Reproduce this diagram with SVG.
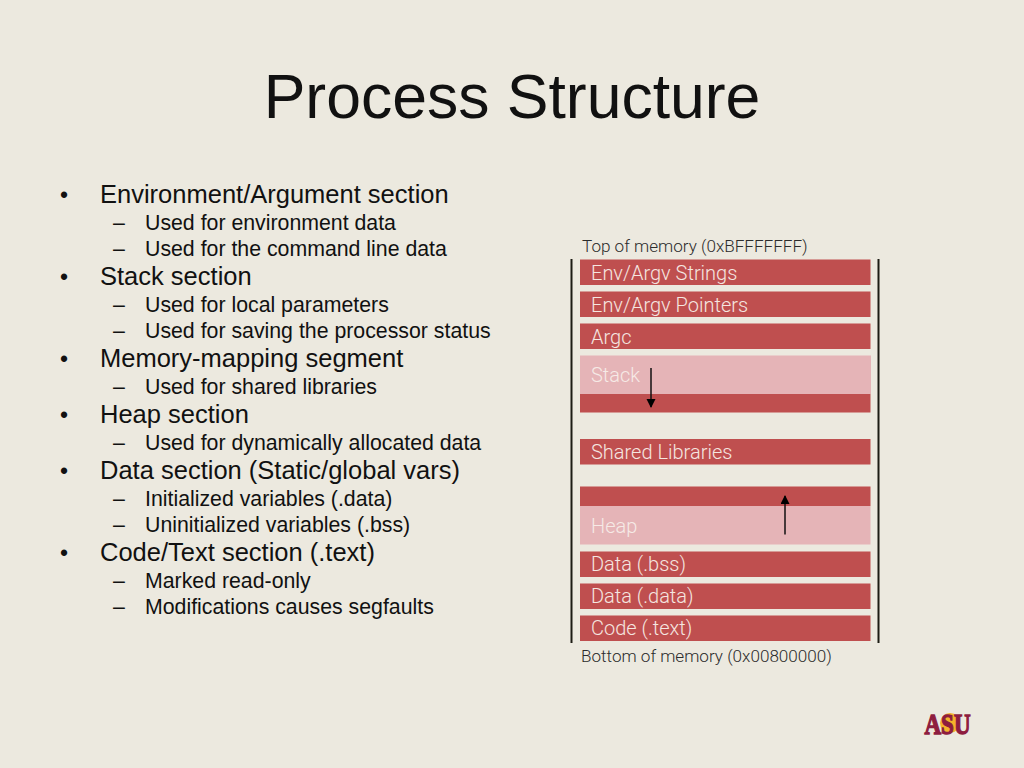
<svg xmlns="http://www.w3.org/2000/svg" width="1024" height="768" viewBox="0 0 1024 768">
<style>
text{font-family:"Liberation Sans",Arial,sans-serif;fill:#111}
.title{font-size:62.5px}
.l1{font-size:25.5px}
.l2{font-size:21.3px}
.b{font-size:23px}
.bar{fill:#bf4f4f}
.pale{fill:#e5b4b7}
.lab{font-family:Roboto,"Liberation Sans",sans-serif;font-weight:300;font-size:20px;fill:#f5e6e0}
.pl{fill:#f6eae6}
.mem{font-family:Roboto,"Liberation Sans",sans-serif;font-weight:300;font-size:17.1px;fill:#2b2b2b}
.rail{stroke:#1c1c14;stroke-width:2;fill:none}
.arrow{stroke:#111;stroke-width:1.5;fill:none;marker-end:url(#ah)}
</style>
<defs><marker id="ah" markerUnits="userSpaceOnUse" markerWidth="10" markerHeight="10" refX="8" refY="4.5" orient="auto"><path d="M0 0L9 4.5L0 9Z" fill="#000"/></marker></defs>
<rect width="1024" height="768" fill="#ece9df"/>
<text class="title" x="512" y="118" text-anchor="middle">Process Structure</text>
<g id="outline">
<text class="b" x="60" y="203">•</text><text class="l1" x="100" y="203">Environment/Argument section</text>
<text class="l2" x="113" y="230">–</text><text class="l2" x="145" y="230">Used for environment data</text>
<text class="l2" x="113" y="256">–</text><text class="l2" x="145" y="256">Used for the command line data</text>
<text class="b" x="60" y="285">•</text><text class="l1" x="100" y="285">Stack section</text>
<text class="l2" x="113" y="312">–</text><text class="l2" x="145" y="312">Used for local parameters</text>
<text class="l2" x="113" y="338">–</text><text class="l2" x="145" y="338">Used for saving the processor status</text>
<text class="b" x="60" y="367">•</text><text class="l1" x="100" y="367">Memory-mapping segment</text>
<text class="l2" x="113" y="394">–</text><text class="l2" x="145" y="394">Used for shared libraries</text>
<text class="b" x="60" y="423">•</text><text class="l1" x="100" y="423">Heap section</text>
<text class="l2" x="113" y="450">–</text><text class="l2" x="145" y="450">Used for dynamically allocated data</text>
<text class="b" x="60" y="479">•</text><text class="l1" x="100" y="479">Data section (Static/global vars)</text>
<text class="l2" x="113" y="506">–</text><text class="l2" x="145" y="506">Initialized variables (.data)</text>
<text class="l2" x="113" y="532">–</text><text class="l2" x="145" y="532">Uninitialized variables (.bss)</text>
<text class="b" x="60" y="561">•</text><text class="l1" x="100" y="561">Code/Text section (.text)</text>
<text class="l2" x="113" y="588">–</text><text class="l2" x="145" y="588">Marked read-only</text>
<text class="l2" x="113" y="614">–</text><text class="l2" x="145" y="614">Modifications causes segfaults</text>
</g>
<g id="memory">
<text class="mem" x="582" y="252">Top of memory (0xBFFFFFFF)</text>
<g id="env-strings"><rect class="bar" x="580" y="259.500" width="290.500" height="25.500"/><text class="lab" x="591" y="279.500">Env/Argv Strings</text></g>
<g id="env-pointers"><rect class="bar" x="580" y="291.500" width="290.500" height="25.500"/><text class="lab" x="591" y="311.500">Env/Argv Pointers</text></g>
<g id="argc"><rect class="bar" x="580" y="323.500" width="290.500" height="25.500"/><text class="lab" x="591" y="343.500">Argc</text></g>
<g id="stack"><rect class="pale" x="580" y="355.500" width="291" height="38.500"/><rect class="bar" x="580" y="394" width="290.500" height="18.500"/><text class="lab pl" x="591" y="382">Stack</text></g>
<g id="shared"><rect class="bar" x="580" y="439" width="290.500" height="25.500"/><text class="lab" x="591" y="458.500">Shared Libraries</text></g>
<g id="heap"><rect class="bar" x="580" y="486.500" width="290.500" height="19.500"/><rect class="pale" x="580" y="506" width="290.500" height="38.500"/><text class="lab pl" x="591" y="532.500">Heap</text></g>
<g id="bss"><rect class="bar" x="580" y="551.500" width="290.500" height="25.500"/><text class="lab" x="591" y="571">Data (.bss)</text></g>
<g id="data"><rect class="bar" x="580" y="583.500" width="290.500" height="25.500"/><text class="lab" x="591" y="603">Data (.data)</text></g>
<g id="code"><rect class="bar" x="580" y="615.500" width="290.500" height="25.500"/><text class="lab" x="591" y="635">Code (.text)</text></g>
<text class="mem" x="581" y="662">Bottom of memory (0x00800000)</text>
</g>
<g id="connectors">
<path class="rail" d="M571.500 259V643"/>
<path class="rail" d="M878.500 259V643"/>
<path class="arrow" d="M651 368V407"/>
<path class="arrow" d="M785 534.500V496"/>
</g>
<g id="logo">
<circle cx="950" cy="723" r="10" fill="#f5b32a"/>
<text x="947.500" y="733.500" text-anchor="middle" stroke="#8e1d3f" stroke-width="1.400" style="font-family:'Liberation Serif',serif;font-weight:bold;font-size:29px;fill:#8e1d3f" textLength="46" lengthAdjust="spacingAndGlyphs">ASU</text>
</g>
</svg>
